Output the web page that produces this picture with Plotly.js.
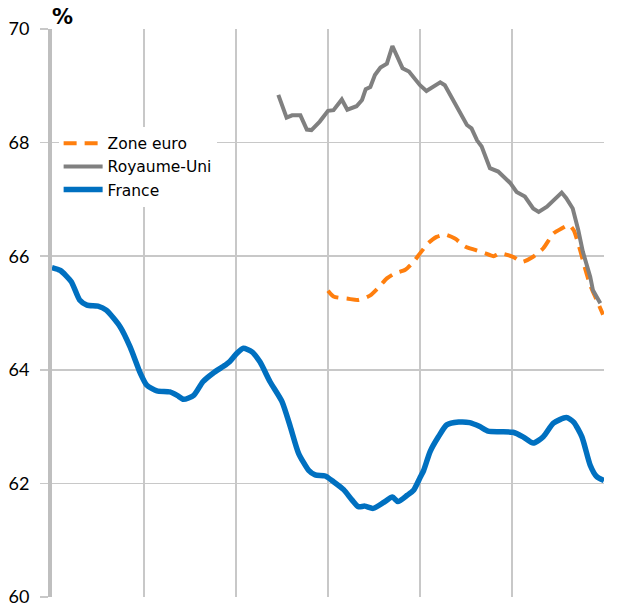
<!DOCTYPE html>
<html>
<head>
<meta charset="utf-8">
<script src="https://cdn.plot.ly/plotly-3.0.1.min.js"></script>
<style>html,body{margin:0;padding:0;background:#fff;}#chart{width:625px;height:611px;}</style>
</head>
<body>
<div id="chart"></div>
<script>
// x positions in grid units (6 equal periods across the chart)
var euroX = [3.00,3.06,3.22,3.33,3.46,3.55,3.64,3.73,3.84,3.93,4.00,4.09,4.18,4.27,4.38,4.49,4.60,4.71,4.80,4.87,5.01,5.11,5.23,5.34,5.45,5.54,5.62,5.67,5.74,5.79,5.85,5.92,5.99];
var euroY = [65.39,65.29,65.25,65.23,65.31,65.45,65.61,65.70,65.76,65.90,66.05,66.23,66.34,66.38,66.31,66.17,66.11,66.05,66.00,66.05,65.99,65.90,65.99,66.14,66.40,66.49,66.55,66.46,66.11,65.81,65.49,65.23,64.97];

var ukX = [2.46,2.55,2.61,2.70,2.77,2.82,2.91,3.00,3.06,3.15,3.21,3.31,3.37,3.41,3.46,3.51,3.57,3.64,3.70,3.75,3.81,3.88,3.95,4.00,4.07,4.14,4.22,4.27,4.38,4.51,4.56,4.62,4.67,4.76,4.85,4.92,4.98,5.05,5.14,5.23,5.29,5.38,5.47,5.54,5.59,5.66,5.72,5.77,5.85,5.88,5.96];
var ukY = [68.84,68.44,68.48,68.48,68.23,68.22,68.37,68.56,68.57,68.76,68.58,68.64,68.75,68.94,68.98,69.19,69.32,69.39,69.70,69.54,69.31,69.25,69.10,69.01,68.91,68.98,69.06,69.01,68.69,68.31,68.25,68.04,67.93,67.55,67.49,67.37,67.29,67.13,67.05,66.84,66.78,66.87,67.02,67.12,67.02,66.84,66.46,66.08,65.64,65.40,65.17];

var frX = [0.00,0.09,0.21,0.30,0.38,0.50,0.59,0.74,0.85,0.96,1.03,1.14,1.28,1.36,1.43,1.54,1.64,1.75,1.88,1.93,2.01,2.08,2.17,2.26,2.37,2.50,2.59,2.68,2.79,2.86,2.97,3.06,3.17,3.26,3.33,3.40,3.49,3.60,3.70,3.76,3.86,3.93,4.00,4.04,4.11,4.20,4.29,4.42,4.54,4.65,4.74,4.87,5.01,5.12,5.23,5.34,5.45,5.59,5.67,5.76,5.85,5.92,6.00];
var frY = [65.80,65.75,65.55,65.23,65.14,65.12,65.05,64.76,64.40,63.94,63.73,63.63,63.61,63.55,63.48,63.55,63.79,63.94,64.08,64.14,64.29,64.38,64.32,64.14,63.79,63.44,63.00,62.53,62.23,62.15,62.13,62.03,61.89,61.71,61.59,61.60,61.56,61.66,61.76,61.68,61.79,61.88,62.10,62.23,62.56,62.82,63.03,63.08,63.07,63.00,62.92,62.91,62.90,62.82,62.71,62.82,63.06,63.16,63.08,62.82,62.32,62.12,62.05];

var yTicks = [60,62,64,66,68,70];
var seriesNames = ["Zone euro","Royaume-Uni","France"];

var traces = [
  {x: euroX, y: euroY, name: seriesNames[0], mode: "lines",
   line: {color: "#ff7f0e", width: 4, dash: "13px,8px", shape: "spline", smoothing: 0.6}},
  {x: ukX, y: ukY, name: seriesNames[1], mode: "lines",
   line: {color: "#808080", width: 4}},
  {x: frX, y: frY, name: seriesNames[2], mode: "lines",
   line: {color: "#0070c0", width: 5.5, shape: "spline", smoothing: 0.6}}
];

var layout = {
  width: 625, height: 611,
  margin: {l: 52, r: 21, t: 29, b: 14, pad: 0},
  paper_bgcolor: "#ffffff", plot_bgcolor: "#ffffff",
  font: {family: "'DejaVu Sans', Lato, sans-serif", size: 16, color: "#000"},
  showlegend: true,
  legend: {x: 0.012, y: 0.828, xanchor: "left", yanchor: "top", bgcolor: "#ffffff",
           font: {size: 15.5, color: "#000"}, tracegroupgap: 0, itemwidth: 39},
  xaxis: {range: [0, 6], tickmode: "linear", tick0: 0, dtick: 1, showticklabels: false,
          showgrid: true, gridcolor: "#c8c8c8", gridwidth: 1.5, zeroline: false,
          showline: false, ticks: ""},
  yaxis: {range: [60, 70], tickvals: yTicks, ticktext: yTicks.map(String),
          showgrid: true, gridcolor: "#c8c8c8", gridwidth: 1.5, zeroline: false,
          showline: true, linecolor: "#bfbfbf", linewidth: 4,
          ticks: "outside", ticklen: 8, tickwidth: 1.5, tickcolor: "#c8c8c8",
          ticklabelstandoff: 7, tickfont: {family: "Lato, sans-serif", size: 18, color: "#000"}},
  annotations: [{text: "<b>%</b>", xref: "paper", yref: "paper", x: 0, y: 1,
                 xanchor: "left", yanchor: "bottom", showarrow: false, yshift: -2, xshift: -2,
                 font: {family: "'DejaVu Sans', sans-serif", size: 21, color: "#000"}}]
};

Plotly.newPlot("chart", traces, layout, {displayModeBar: false, staticPlot: true});
</script>
</body>
</html>
